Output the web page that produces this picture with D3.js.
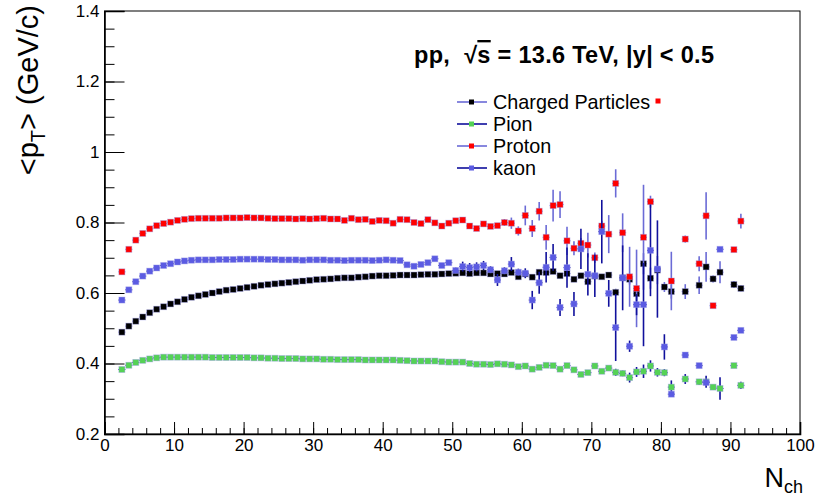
<!DOCTYPE html>
<html>
<head>
<meta charset="utf-8">
<script src="https://cdn.jsdelivr.net/npm/d3@7"></script>
<style>
  body { margin: 0; background: #fff; }
  text { font-family: "Liberation Sans", Arial, Helvetica, sans-serif; }
</style>
</head>
<body>
<svg id="svg" width="820" height="499"></svg>
<script>
// bin centres in N_ch
const nch = [2.5, 3.5, 4.5, 5.5, 6.5, 7.5, 8.5, 9.5, 10.5, 11.5,
  12.5, 13.5, 14.5, 15.5, 16.5, 17.5, 18.5, 19.5, 20.5, 21.5,
  22.5, 23.5, 24.5, 25.5, 26.5, 27.5, 28.5, 29.5, 30.5, 31.5,
  32.5, 33.5, 34.5, 35.5, 36.5, 37.5, 38.5, 39.5, 40.5, 41.5,
  42.5, 43.5, 44.5, 45.5, 46.5, 47.5, 48.5, 49.5, 50.5, 51.5,
  52.5, 53.5, 54.5, 55.5, 56.5, 57.5, 58.5, 59.5, 60.5, 61.5,
  62.5, 63.5, 64.5, 65.5, 66.5, 67.5, 68.5, 69.5, 70.5, 71.5,
  72.5, 73.5, 74.5, 75.5, 76.5, 77.5, 78.5, 79.5, 80.5, 81.5,
  82.5, 83.5, 84.5, 85.5, 86.5, 87.5, 88.5, 89.5, 90.5, 91.5];

// <pT> values, null = empty bin
const meanCharged = [0.489, 0.506, 0.520, 0.532, 0.544, 0.554, 0.561, 0.569, 0.575, 0.582,
  0.588, 0.592, 0.596, 0.600, 0.604, 0.608, 0.610, 0.613, 0.616, 0.619,
  0.622, 0.624, 0.626, 0.628, 0.630, 0.632, 0.634, 0.636, 0.638, 0.639,
  0.640, 0.642, 0.643, 0.643, 0.645, 0.646, 0.648, 0.649, 0.649, 0.650,
  0.651, 0.651, 0.651, 0.652, 0.653, 0.653, 0.654, 0.655, 0.656, 0.657,
  0.655, 0.657, 0.657, 0.654, 0.655, 0.654, 0.658, 0.646, 0.654, 0.645,
  0.659, 0.658, 0.661, 0.649, 0.655, 0.639, 0.649, 0.632, 0.648, 0.646,
  0.651, 0.602, 0.643, 0.639, 0.598, 0.683, 0.642, 0.665, 0.617, 0.604,
  null, 0.604, null, 0.622, 0.674, 0.640, 0.659, null, 0.624, 0.613];
const errCharged = [0, 0, 0, 0, 0, 0, 0, 0, 0, 0,
  0, 0, 0, 0, 0, 0, 0, 0, 0, 0,
  0, 0, 0, 0, 0, 0, 0, 0, 0, 0,
  0, 0, 0, 0, 0, 0, 0, 0, 0, 0,
  0, 0, 0, 0, 0, 0, 0, 0, 0, 0,
  0, 0, 0, 0, 0, 0, 0, 0.004, 0.004, 0.004,
  0.004, 0.004, 0.004, 0.004, 0.004, 0.004, 0.004, 0.004, 0.004, 0.004,
  0.004, 0.010, 0.010, 0.015, 0.020, 0.030, 0.030, 0.040, 0.014, 0.020,
  null, 0.021, null, 0.025, 0.042, 0.010, 0.031, null, 0.010, 0.008];

const meanPion = [0.383, 0.395, 0.403, 0.409, 0.413, 0.416, 0.418, 0.418, 0.418, 0.418,
  0.418, 0.418, 0.418, 0.417, 0.417, 0.417, 0.417, 0.417, 0.417, 0.416,
  0.416, 0.415, 0.415, 0.414, 0.414, 0.414, 0.413, 0.413, 0.413, 0.412,
  0.412, 0.411, 0.411, 0.411, 0.411, 0.410, 0.410, 0.410, 0.410, 0.410,
  0.409, 0.408, 0.407, 0.407, 0.407, 0.407, 0.405, 0.404, 0.404, 0.404,
  0.400, 0.398, 0.398, 0.397, 0.399, 0.398, 0.396, 0.391, 0.393, 0.384,
  0.389, 0.395, 0.394, 0.384, 0.394, 0.382, 0.369, 0.374, 0.393, 0.378,
  0.387, 0.375, 0.372, 0.360, 0.376, 0.378, 0.393, 0.375, 0.374, 0.333,
  null, 0.356, null, 0.348, 0.348, 0.333, 0.329, null, 0.394, 0.338];
const errPion = [0, 0, 0, 0, 0, 0, 0, 0, 0, 0,
  0, 0, 0, 0, 0, 0, 0, 0, 0, 0,
  0, 0, 0, 0, 0, 0, 0, 0, 0, 0,
  0, 0, 0, 0, 0, 0, 0, 0, 0, 0,
  0, 0, 0, 0, 0, 0, 0, 0, 0, 0,
  0, 0, 0, 0, 0, 0, 0, 0, 0, 0,
  0, 0, 0, 0, 0, 0.004, 0.004, 0.004, 0.004, 0.004,
  0.004, 0.010, 0.008, 0.014, 0.014, 0.019, 0.016, 0.012, 0.010, 0.019,
  null, 0.014, null, 0.008, 0.017, 0.006, 0.032, null, 0.004, 0.010];

const meanProton = [0.660, 0.724, 0.750, 0.769, 0.782, 0.791, 0.797, 0.801, 0.806, 0.809,
  0.811, 0.812, 0.812, 0.812, 0.812, 0.813, 0.813, 0.813, 0.814, 0.813,
  0.813, 0.812, 0.811, 0.811, 0.811, 0.810, 0.811, 0.810, 0.811, 0.812,
  0.810, 0.810, 0.806, 0.812, 0.808, 0.809, 0.803, 0.806, 0.805, 0.798,
  0.809, 0.808, 0.800, 0.797, 0.808, 0.799, 0.790, 0.798, 0.805, 0.807,
  0.790, 0.783, 0.796, 0.789, 0.791, 0.800, 0.798, 0.776, 0.820, 0.783,
  0.832, 0.758, 0.848, 0.851, 0.748, 0.727, 0.741, 0.736, 0.700, 0.790,
  0.767, 0.911, 0.771, 0.646, 0.613, 0.758, 0.859, null, null, 0.634,
  null, 0.753, null, 0.683, 0.819, 0.564, null, null, 0.723, 0.804];
const errProton = [0, 0, 0, 0, 0, 0, 0, 0, 0, 0,
  0, 0, 0, 0, 0, 0, 0, 0, 0, 0,
  0, 0, 0, 0, 0, 0, 0, 0, 0, 0,
  0, 0, 0, 0, 0, 0, 0, 0, 0, 0,
  0, 0, 0, 0, 0, 0, 0, 0, 0, 0,
  0.005, 0.005, 0.005, 0.005, 0.005, 0.010, 0.016, 0.013, 0.028, 0.024,
  0.026, 0.035, 0.045, 0.038, 0.040, 0.020, 0.015, 0.035, 0.015, 0.015,
  0.054, 0.040, 0.055, 0.085, 0.110, 0.149, 0.017, null, null, 0.083,
  null, 0.010, null, 0.021, 0.067, 0.005, null, null, 0.005, 0.021];

const meanKaon = [0.580, 0.609, 0.632, 0.648, 0.662, 0.671, 0.678, 0.683, 0.688, 0.691,
  0.693, 0.694, 0.694, 0.694, 0.695, 0.695, 0.695, 0.696, 0.696, 0.696,
  0.696, 0.695, 0.695, 0.694, 0.694, 0.694, 0.693, 0.694, 0.694, 0.694,
  0.693, 0.693, 0.692, 0.693, 0.693, 0.693, 0.692, 0.693, 0.694, 0.693,
  0.692, 0.680, 0.676, 0.681, 0.686, 0.697, 0.678, 0.686, 0.664, 0.675,
  0.672, 0.674, 0.678, 0.666, 0.637, 0.663, 0.682, 0.659, 0.656, 0.580,
  0.629, 0.673, 0.701, 0.559, 0.672, 0.569, 0.725, 0.653, 0.649, 0.774,
  0.599, 0.502, 0.643, 0.449, 0.567, 0.567, 0.721, 0.668, 0.447, 0.313,
  null, 0.424, null, 0.394, 0.346, null, 0.724, null, 0.474, 0.494];
const errKaon = [0, 0, 0, 0, 0, 0, 0, 0, 0, 0,
  0, 0, 0, 0, 0, 0, 0, 0, 0, 0,
  0, 0, 0, 0, 0, 0, 0, 0, 0, 0,
  0, 0, 0, 0, 0, 0, 0, 0, 0, 0,
  0, 0.004, 0.004, 0.004, 0.004, 0.004, 0.004, 0.004, 0.008, 0.014,
  0.013, 0.013, 0.013, 0.010, 0.017, 0.010, 0.020, 0.010, 0.014, 0.026,
  0.031, 0.043, 0.038, 0.024, 0.057, 0.034, 0.057, 0.060, 0.060, 0.090,
  0.038, 0.095, 0.092, 0.016, 0.030, 0.118, 0.130, 0.138, 0.036, 0.006,
  null, 0.005, null, 0.005, 0.010, null, 0.005, null, 0.005, 0.005];

const seriesNames = ['Charged Particles', 'Pion', 'Proton', 'kaon'];
const xTicks = [0, 10, 20, 30, 40, 50, 60, 70, 80, 90, 100];
const yTicks = [0.2, 0.4, 0.6, 0.8, 1.0, 1.2, 1.4];

const series = [
  { name: seriesNames[0], mean: meanCharged, err: errCharged, fill: '#000000', bar: '#6b6bd6' },
  { name: seriesNames[1], mean: meanPion, err: errPion, fill: '#55d255', bar: '#10109c' },
  { name: seriesNames[2], mean: meanProton, err: errProton, fill: '#ff0000', bar: '#6b6bd6' },
  { name: seriesNames[3], mean: meanKaon, err: errKaon, fill: '#5b5be2', bar: '#10109c' }
];

const svg = d3.select('#svg');
const pLeft = 104.5, pRight = 800, pTop = 11, pBottom = 434;

const x = d3.scaleLinear().domain([0, 100]).range([pLeft, pRight]);
const y = d3.scaleLinear().domain([0.2, 1.4]).range([pBottom, pTop]);

// frame
svg.append('rect')
  .attr('x', pLeft).attr('y', pTop)
  .attr('width', pRight - pLeft).attr('height', pBottom - pTop)
  .attr('fill', 'none').attr('stroke', '#000').attr('stroke-width', 1);

// minor ticks
svg.append('g')
  .attr('transform', `translate(0,${pBottom})`)
  .call(d3.axisBottom(x).tickValues(d3.range(0, 101, 2)).tickSize(-6).tickFormat(''))
  .call(g => g.select('.domain').remove());
svg.append('g')
  .attr('transform', `translate(${pLeft},0)`)
  .call(d3.axisLeft(y).tickValues(d3.range(0.2, 1.401, 0.05)).tickSize(-10).tickFormat(''))
  .call(g => g.select('.domain').remove());

// major ticks + labels
const xAxis = svg.append('g')
  .attr('transform', `translate(0,${pBottom})`)
  .call(d3.axisBottom(x).tickValues(xTicks).tickSize(-12).tickPadding(5).tickFormat(d3.format('d')));
const yAxis = svg.append('g')
  .attr('transform', `translate(${pLeft},0)`)
  .call(d3.axisLeft(y).tickValues(yTicks).tickSize(-20).tickPadding(5).tickFormat(d => String(+d.toFixed(1))));

[xAxis, yAxis].forEach(g => {
  g.select('.domain').attr('stroke-width', 1.6);
  g.selectAll('text').attr('font-size', 17).attr('fill', '#000')
    .style('font-family', '"Liberation Sans", Arial, sans-serif');
});

// data
series.forEach(s => {
  const pts = nch.map((n, i) => ({ n, v: s.mean[i], e: s.err[i] })).filter(d => d.v != null);
  const g = svg.append('g');
  g.selectAll('line.ex').data(pts).join('line')
    .attr('class', 'ex')
    .attr('x1', d => x(d.n - 0.5)).attr('x2', d => x(d.n + 0.5))
    .attr('y1', d => y(d.v)).attr('y2', d => y(d.v))
    .attr('stroke', s.bar).attr('stroke-width', 1);
  g.selectAll('line.ey').data(pts.filter(d => d.e > 0)).join('line')
    .attr('class', 'ey')
    .attr('x1', d => x(d.n)).attr('x2', d => x(d.n))
    .attr('y1', d => y(d.v - d.e)).attr('y2', d => y(d.v + d.e))
    .attr('stroke', s.bar).attr('stroke-width', 1.6);
  g.selectAll('rect').data(pts).join('rect')
    .attr('x', d => x(d.n) - 3).attr('y', d => y(d.v) - 3)
    .attr('width', 6).attr('height', 6)
    .attr('fill', s.fill)
    .attr('stroke', '#9a9ae8').attr('stroke-opacity', 0.5).attr('stroke-width', 0.8);
});

// legend
const legend = svg.append('g');
const rows = [102, 124, 146, 168];
series.forEach((s, i) => {
  legend.append('line')
    .attr('x1', 457).attr('x2', 487).attr('y1', rows[i]).attr('y2', rows[i])
    .attr('stroke', s.bar).attr('stroke-width', 1.6);
  legend.append('rect')
    .attr('x', 469).attr('y', rows[i] - 2.5).attr('width', 5).attr('height', 5)
    .attr('fill', s.fill);
  legend.append('text')
    .attr('x', 493).attr('y', rows[i] + 6.5)
    .attr('font-size', 19.8)
    .text(s.name);
});
// stray proton marker beside first entry
legend.append('rect')
  .attr('x', 655.5).attr('y', 98.5).attr('width', 5).attr('height', 5)
  .attr('fill', series[2].fill);

// title
const title = svg.append('text')
  .attr('x', 414).attr('y', 63)
  .attr('font-size', 23.5).attr('font-weight', 'bold')
  .attr('letter-spacing', 0.3);
title.append('tspan').text('pp,');
title.append('tspan').attr('dx', 14).text('\u221A');
title.append('tspan').style('text-decoration', 'overline').text('s');
title.append('tspan').text(' = 13.6 TeV, |y| < 0.5');

// axis titles
const yt = svg.append('text')
  .attr('transform', 'translate(38,5) rotate(-90)')
  .attr('text-anchor', 'end')
  .attr('font-size', 29);
yt.append('tspan').text('<p');
yt.append('tspan').attr('font-size', 20).attr('dy', 7).text('T');
yt.append('tspan').attr('dy', -7).text('> (GeV/c)');

const xt = svg.append('text')
  .attr('x', 803).attr('y', 487)
  .attr('text-anchor', 'end')
  .attr('font-size', 27);
xt.append('tspan').text('N');
xt.append('tspan').attr('font-size', 18).attr('dy', 6).text('ch');
</script>
</body>
</html>
